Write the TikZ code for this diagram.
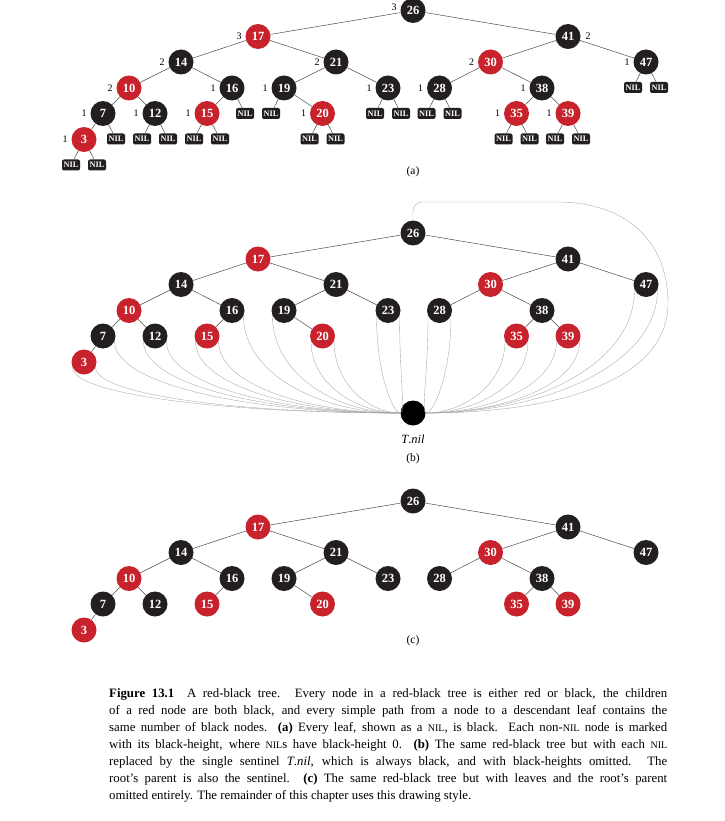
\documentclass[tikz,border=0pt]{standalone}
\usepackage{fontspec}
\setmainfont{Liberation Serif}
\usetikzlibrary{calc}
\definecolor{rbred}{HTML}{C8222C}
\definecolor{rbblack}{HTML}{231F20}
\tikzset{
  rbnode/.style={circle, minimum size=25pt, inner sep=0pt, text=white,
    font=\fontsize{12.5}{12.5}\selectfont\bfseries},
  nilbox/.style={rectangle, rounded corners=2pt, fill=rbblack, minimum width=18pt,
    minimum height=11pt, inner sep=0pt, text=white, font=\fontsize{8.3}{8.3}\selectfont\bfseries},
  treeedge/.style={draw=black!70, line width=0.5pt},
  nilline/.style={draw=black!35, line width=0.35pt},
  bh/.style={font=\fontsize{10}{10}\selectfont, inner sep=0pt},
  partlabel/.style={font=\fontsize{11.5}{11.5}\selectfont, inner sep=0pt},
  tnilnode/.style={circle, minimum size=25pt, inner sep=0pt, fill=black},
}
\newcommand\rbtree[2]{%
  \foreach \k/\x/\dy/\c in {26/413/0/rbblack,17/258/26/rbred,41/568/26/rbblack,
    14/181/51.5/rbblack,21/336/51.5/rbblack,30/490.5/51.5/rbred,47/646/51.5/rbblack,
    10/129/77.5/rbred,16/232/77.5/rbblack,19/284/77.5/rbblack,23/388/77.5/rbblack,
    28/439.5/77.5/rbblack,38/542/77.5/rbblack,7/103/103/rbblack,12/155/103/rbblack,
    15/207/103/rbred,20/322.5/103/rbred,35/516.5/103/rbred,39/568/103/rbred,3/84/129/rbred}
    {\node[rbnode, fill=\c] (#1\k) at (\x,{#2+\dy}) {\k};}
  \foreach \p/\q in {26/17,26/41,17/14,17/21,14/10,14/16,10/7,10/12,7/3,16/15,
    21/19,21/23,19/20,41/30,41/47,30/28,30/38,38/35,38/39}
    {\draw[treeedge] (#1\p) -- (#1\q);}
}
\newcommand\tonil[1]{%
  \draw[nilline] (#1) .. controls ($(#1)!0.6!(#1 |- tnil.center)$)
    and ($(#1 |- tnil.center)!0.45!(tnil.center)$) .. (tnil);}
\newcommand\nilsc{{\fontsize{10}{10}\selectfont NIL}}
\begin{document}
\begin{tikzpicture}[x=1pt, y=-1pt]
\useasboundingbox (0,0) rectangle (724,821);
% ---------- (a) ----------
\rbtree{a}{10.5}
\foreach \p/\d/\i in {3/-13/l,3/13/r,7/13/r,12/-13/l,12/13/r,15/-13/l,15/13/r,16/13/r,
  19/-13/l,20/-13/l,20/13/r,23/-13/l,23/13/r,28/-13/l,28/13/r,35/-13/l,35/13/r,
  39/-13/l,39/13/r,47/-13/l,47/13/r}
  {\node[nilbox] (nil\p\i) at ($(a\p)+(\d,25.5)$) {NIL};
   \draw[treeedge] (a\p) -- (nil\p\i);}
\foreach \k/\h in {17/3,14/2,21/2,30/2,47/1,10/2,16/1,19/1,23/1,28/1,38/1,
  7/1,12/1,15/1,20/1,35/1,39/1,3/1}
  {\node[bh] (bh\k) at ($(a\k)+(-19,0)$) {\h};}
\node[bh] (bh26) at ($(a26)+(-19,-3.5)$) {3};
\node[bh] (bh41) at ($(a41)+(20,0)$) {2};
\node[partlabel] (laba) at (413,172) {(a)};
% ---------- (b) ----------
\rbtree{b}{233}
\node[tnilnode] (tnil) at (413,413) {};
\foreach \a in {b3.-155,b3.-25,b7.-25,b12.-155,b12.-25,b15.-155,b15.-25,b16.-25,
  b19.-155,b20.-155,b20.-25,b23.-155,b23.-25,b28.-155,b28.-25,b35.-155,b35.-25,
  b39.-155,b39.-25,b47.-155,b47.-25}
  {\tonil{\a}}
\draw[nilline, rounded corners=9pt] (b26.north) |- (557,202);
\draw[nilline] (557,202) .. controls (625,202) and (668,240) .. (668,303)
  .. controls (668,380) and (560,413) .. (tnil);
\node[font=\fontsize{12.5}{12.5}\selectfont, inner sep=0pt] (tnillab) at (413,439)
  {\textit{T}.\textit{nil}};
\node[partlabel] (labb) at (413,459) {(b)};
% ---------- (c) ----------
\rbtree{c}{501}
\node[partlabel] (labc) at (413,641) {(c)};
% ---------- caption ----------
\node[anchor=north west, text width=558pt, align=justify, inner sep=0pt,
  font=\fontsize{12.8}{17}\selectfont] (cap) at (109,688) {%
\textbf{Figure 13.1}\quad A red-black tree. Every node in a red-black tree is either red or black, the children\linebreak
of a red node are both black, and every simple path from a node to a descendant leaf contains the\linebreak
same number of black nodes. \textbf{(a)} Every leaf, shown as a \nilsc, is black. Each non-\nilsc\ node is marked\linebreak
with its black-height, where \nilsc s have black-height 0. \textbf{(b)} The same red-black tree but with each \nilsc\linebreak
replaced by the single sentinel \textit{T}.\textit{nil}, which is always black, and with black-heights omitted. The\linebreak
root's parent is also the sentinel. \textbf{(c)} The same red-black tree but with leaves and the root's parent\linebreak
omitted entirely. The remainder of this chapter uses this drawing style.};
\end{tikzpicture}
\end{document}
